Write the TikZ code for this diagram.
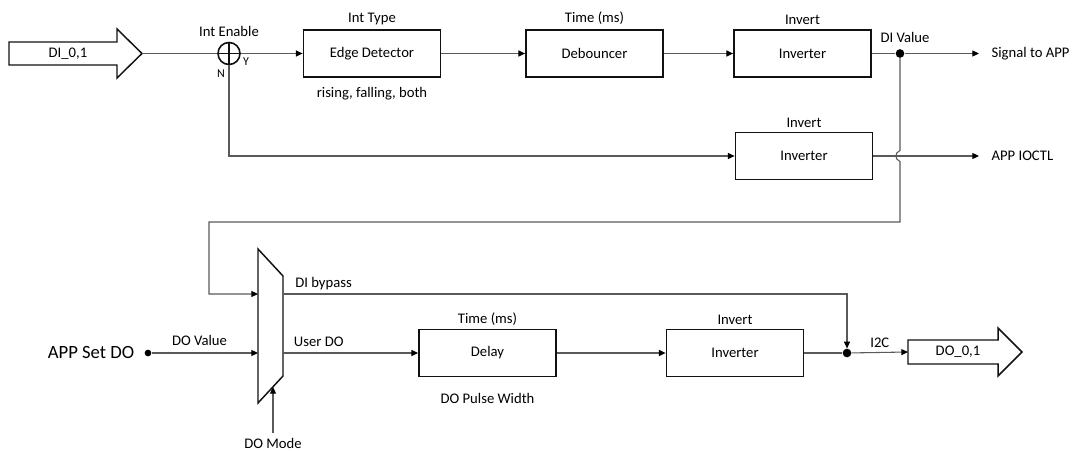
\documentclass[tikz,border=0pt]{standalone}
\usepackage{fontspec}
\setmainfont{Carlito}
\usepackage{tikz}
\usetikzlibrary{arrows.meta, calc, positioning}
\usepackage{xcolor}
\definecolor{wGrey}{HTML}{5A5A5A}
\definecolor{bInk}{HTML}{111111}

\begin{document}
\begin{tikzpicture}[x=0.75pt, y=-0.75pt, >={Triangle[length=5pt, width=4.5pt, color=black]},
  block/.style={draw=bInk, line width=1.1pt, minimum width=103pt, minimum height=35.5pt,
                inner sep=0pt, font=\fontsize{11}{13}\selectfont},
  lbl/.style={font=\fontsize{11}{13}\selectfont, inner sep=1pt},
  wire/.style={draw=wGrey, line width=0.8pt},
  joint/.style={circle, fill=black, inner sep=0pt, minimum size=6.5pt}]
  \useasboundingbox (0,0) rectangle (1080,452);

  % digital input chain
  \draw[line width=1.1pt, bInk] (9,42) -- (117,42) -- (117,29) -- (142,53.5) -- (117,78)
    -- (117,65) -- (9,65) -- cycle;
  \node[lbl] (dilbl) at (68,53.5) {DI\_0,1};
  \coordinate (ditip) at (142,53.5);
  \node[circle, draw=bInk, line width=1.2pt, minimum size=16.5pt, inner sep=0pt] (xor) at (229,53.5) {};
  \draw[line width=1.2pt, bInk] (xor.north) -- (xor.south) (xor.west) -- (xor.east);
  \node[lbl, above=2.5pt of xor] {Int Enable};
  \node[lbl, font=\fontsize{9}{10}\selectfont] at (246,62) {Y};
  \node[lbl, font=\fontsize{9}{10}\selectfont] at (221,74) {N};

  \node[block] (edge) at (372,53.5) {Edge Detector};
  \node[block] (deb) at (594.5,53.5) {Debouncer};
  \node[block] (inv1) at (802.5,53.5) {Inverter};
  \node[block] (inv2) at (804,156) {Inverter};
  \node[lbl, above=2pt of edge] {Int Type};
  \node[lbl, below=5.5pt of edge] {rising, falling, both};
  \node[lbl, above=2pt of deb] {Time (ms)};
  \node[lbl, above=2pt of inv1] {Invert};
  \node[lbl, above=2pt of inv2] {Invert};

  \node[joint] (didot) at (900,53.5) {};
  \node[lbl] at (905,37) {DI Value};
  \coordinate (sigapp) at (979,53.5);
  \coordinate (ioctl) at (979,156);
  \node[lbl, anchor=west] at ($(sigapp)+(11,0)$) {Signal to APP};
  \node[lbl, anchor=west] at ($(ioctl)+(11,0)$) {APP IOCTL};

  \draw[wire] (ditip) -- (xor);
  \draw[wire, ->] (xor) -- (edge);
  \draw[wire, ->] (edge) -- (deb);
  \draw[wire, ->] (deb) -- (inv1);
  \draw[wire] (inv1) -- (didot);
  \draw[wire, ->] (didot) -- (sigapp);
  \draw[wire, ->] (xor.south) |- (inv2);
  \draw[wire, ->] (inv2) -- (ioctl);

  % digital output chain
  \draw[line width=1.1pt, bInk] (258,249) -- (283,276) -- (283,376) -- (258,403) -- cycle;
  \coordinate (muxA) at (258,294);
  \coordinate (muxB) at (258,353);
  \coordinate (muxOa) at (283,294);
  \coordinate (muxOb) at (283,353);
  \coordinate (muxS) at (273,387);
  \coordinate (modeft) at (273,433);

  \draw[wire, ->] (didot) -- (900,150.5) .. controls (894.5,152.5) and (894.5,159.5) .. (900,161.5)
    -- (900,222) -| (209,294) -- (muxA);

  \node[lbl, font=\fontsize{14}{16}\selectfont] (setdo) at (91,353) {APP Set DO};
  \node[joint, minimum size=5pt] (setdot) at (148,353) {};
  \draw[wire, ->] (setdot) -- (muxB) node[lbl, pos=0.45, above=4pt] {DO Value};

  \node[block] (delay) at (487.5,353) {Delay};
  \node[block] (inv3) at (735,353) {Inverter};
  \node[lbl, above=1pt of delay] {Time (ms)};
  \node[lbl, below=11pt of delay] {DO Pulse Width};
  \node[lbl, above=2pt of inv3] {Invert};
  \node[joint] (i2cdot) at (847,353) {};

  \draw[wire, ->] (muxOb) -- (delay);
  \node[lbl, above right=3.5pt and 7pt of muxOb] {User DO};
  \draw[wire, ->] (muxOa) -| (i2cdot);
  \node[lbl, above right=2pt and 8pt of muxOa] {DI bypass};
  \draw[wire, ->] (delay) -- (inv3);
  \draw[wire] (inv3) -- (i2cdot);

  \draw[line width=1.1pt, bInk] (908,340) -- (998,340) -- (998,328) -- (1022,352) -- (998,376)
    -- (998,364) -- (908,364) -- cycle;
  \node[lbl] (dolbl) at (958,352) {DO\_0,1};
  \coordinate (dotail) at (908,352);
  \draw[wire, ->] (i2cdot) -- (dotail) node[lbl, midway, above=2pt] {I2C};

  \draw[wire, ->] (modeft) -- (muxS);
  \node[lbl, below=3pt of modeft] {DO Mode};
\end{tikzpicture}
\end{document}
